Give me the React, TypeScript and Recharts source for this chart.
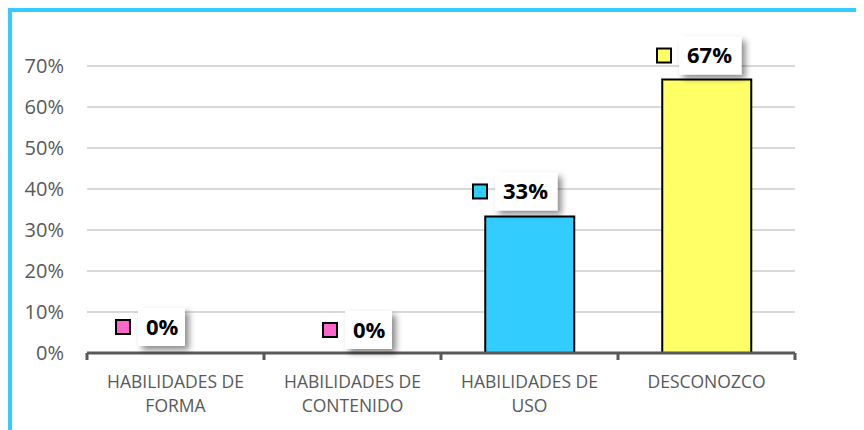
import React from 'react';
import { ComposedChart, Bar, Line, XAxis, YAxis, CartesianGrid, Cell, LabelList } from 'recharts';

const CATEGORIES = ['HABILIDADES DE\nFORMA', 'HABILIDADES DE\nCONTENIDO', 'HABILIDADES DE\nUSO', 'DESCONOZCO'];
const VALUES = [0, 0, 0.333, 0.667];
const BAR_COLORS = ['#FF66CC', '#FF66CC', '#33CCFF', '#FFFF66'];
const Y_TICKS = [0, 0.1, 0.2, 0.3, 0.4, 0.5, 0.6, 0.7];

// label nudges (square left vs category centre, square centre vs value point)
const LABEL_OFFSETS = [[-59.5, -26], [-29.5, -23], [-56.5, -25], [-49.5, -24]];

const W = 852;
const H = 418;
const MARGIN = { top: 54, right: 69, left: 0, bottom: 17 };
const Y_W = 75;
const BAND = (W - MARGIN.left - MARGIN.right - Y_W) / CATEGORIES.length;

const data = CATEGORIES.map((name, i) => ({ name, value: VALUES[i] }));

const pct = (v: number) => `${Math.round(v * 100)}%`;

const XTick = (props: any) => {
  const { x, y, payload, index } = props;
  const lines = String(payload.value).split('\n');
  return (
    <g>
      <line x1={x - BAND / 2} y1={y} x2={x - BAND / 2} y2={y + 7} stroke="#595959" strokeWidth={3} />
      {index === CATEGORIES.length - 1 && (
        <line x1={x + BAND / 2} y1={y} x2={x + BAND / 2} y2={y + 7} stroke="#595959" strokeWidth={3} />
      )}
      {lines.map((l, i) => (
        <text key={i} x={x} y={y + 35 + i * 24} textAnchor="middle" fill="#595959" fontSize={17.5}>
          {l}
        </text>
      ))}
    </g>
  );
};

const ValueLabel = (props: any) => {
  const { x, y, index } = props;
  const [dx, dy] = LABEL_OFFSETS[index];
  const sx = x + dx;
  const cy = y + dy;
  const text = pct(VALUES[index]);
  const boxX = sx + 22;
  const boxW = 16 + 15.5 * text.length;
  return (
    <g>
      <defs>
        <filter id={`shadow${index}`} x="-30%" y="-30%" width="170%" height="180%">
          <feDropShadow dx="4" dy="4" stdDeviation="3" floodColor="#000" floodOpacity="0.45" />
        </filter>
      </defs>
      <rect x={boxX} y={cy - 19} width={boxW} height={38} fill="#fff" filter={`url(#shadow${index})`} />
      <rect x={sx} y={cy - 7} width={14} height={14} fill={BAR_COLORS[index]} stroke="#000" strokeWidth={2} />
      <text x={boxX + 8} y={cy + 7.5} fontSize={22} fontWeight={700} fill="#000">
        {text}
      </text>
    </g>
  );
};

export default function App() {
  return (
    <div
      style={{
        width: 856,
        height: 422,
        boxSizing: 'border-box',
        borderTop: '4px solid #33CCFF',
        borderLeft: '4px solid #33CCFF',
        background: '#fff',
      }}
    >
      <ComposedChart
        width={W}
        height={H}
        data={data}
        margin={MARGIN}
        barCategoryGap="25%"
        style={{ fontFamily: '"Open Sans", sans-serif' }}
      >
        <CartesianGrid vertical={false} stroke="#d9d9d9" strokeWidth={2} />
        <XAxis
          dataKey="name"
          interval={0}
          height={60}
          tickSize={0}
          tickMargin={0}
          axisLine={{ stroke: '#595959', strokeWidth: 3 }}
          tickLine={false}
          tick={<XTick />}
        />
        <YAxis
          width={Y_W}
          domain={[0, 0.7]}
          ticks={Y_TICKS}
          tickFormatter={pct}
          axisLine={false}
          tickLine={false}
          tickMargin={17}
          tick={{ fill: '#595959', fontSize: 20 }}
        />
        <Bar dataKey="value" stroke="#000" strokeWidth={2} isAnimationActive={false}>
          {data.map((d, i) => (
            <Cell key={d.name} fill={BAR_COLORS[i]} />
          ))}
        </Bar>
        <Line
          dataKey="value"
          stroke="none"
          dot={false}
          activeDot={false}
          legendType="none"
          isAnimationActive={false}
        >
          <LabelList dataKey="value" content={<ValueLabel />} />
        </Line>
      </ComposedChart>
    </div>
  );
}
